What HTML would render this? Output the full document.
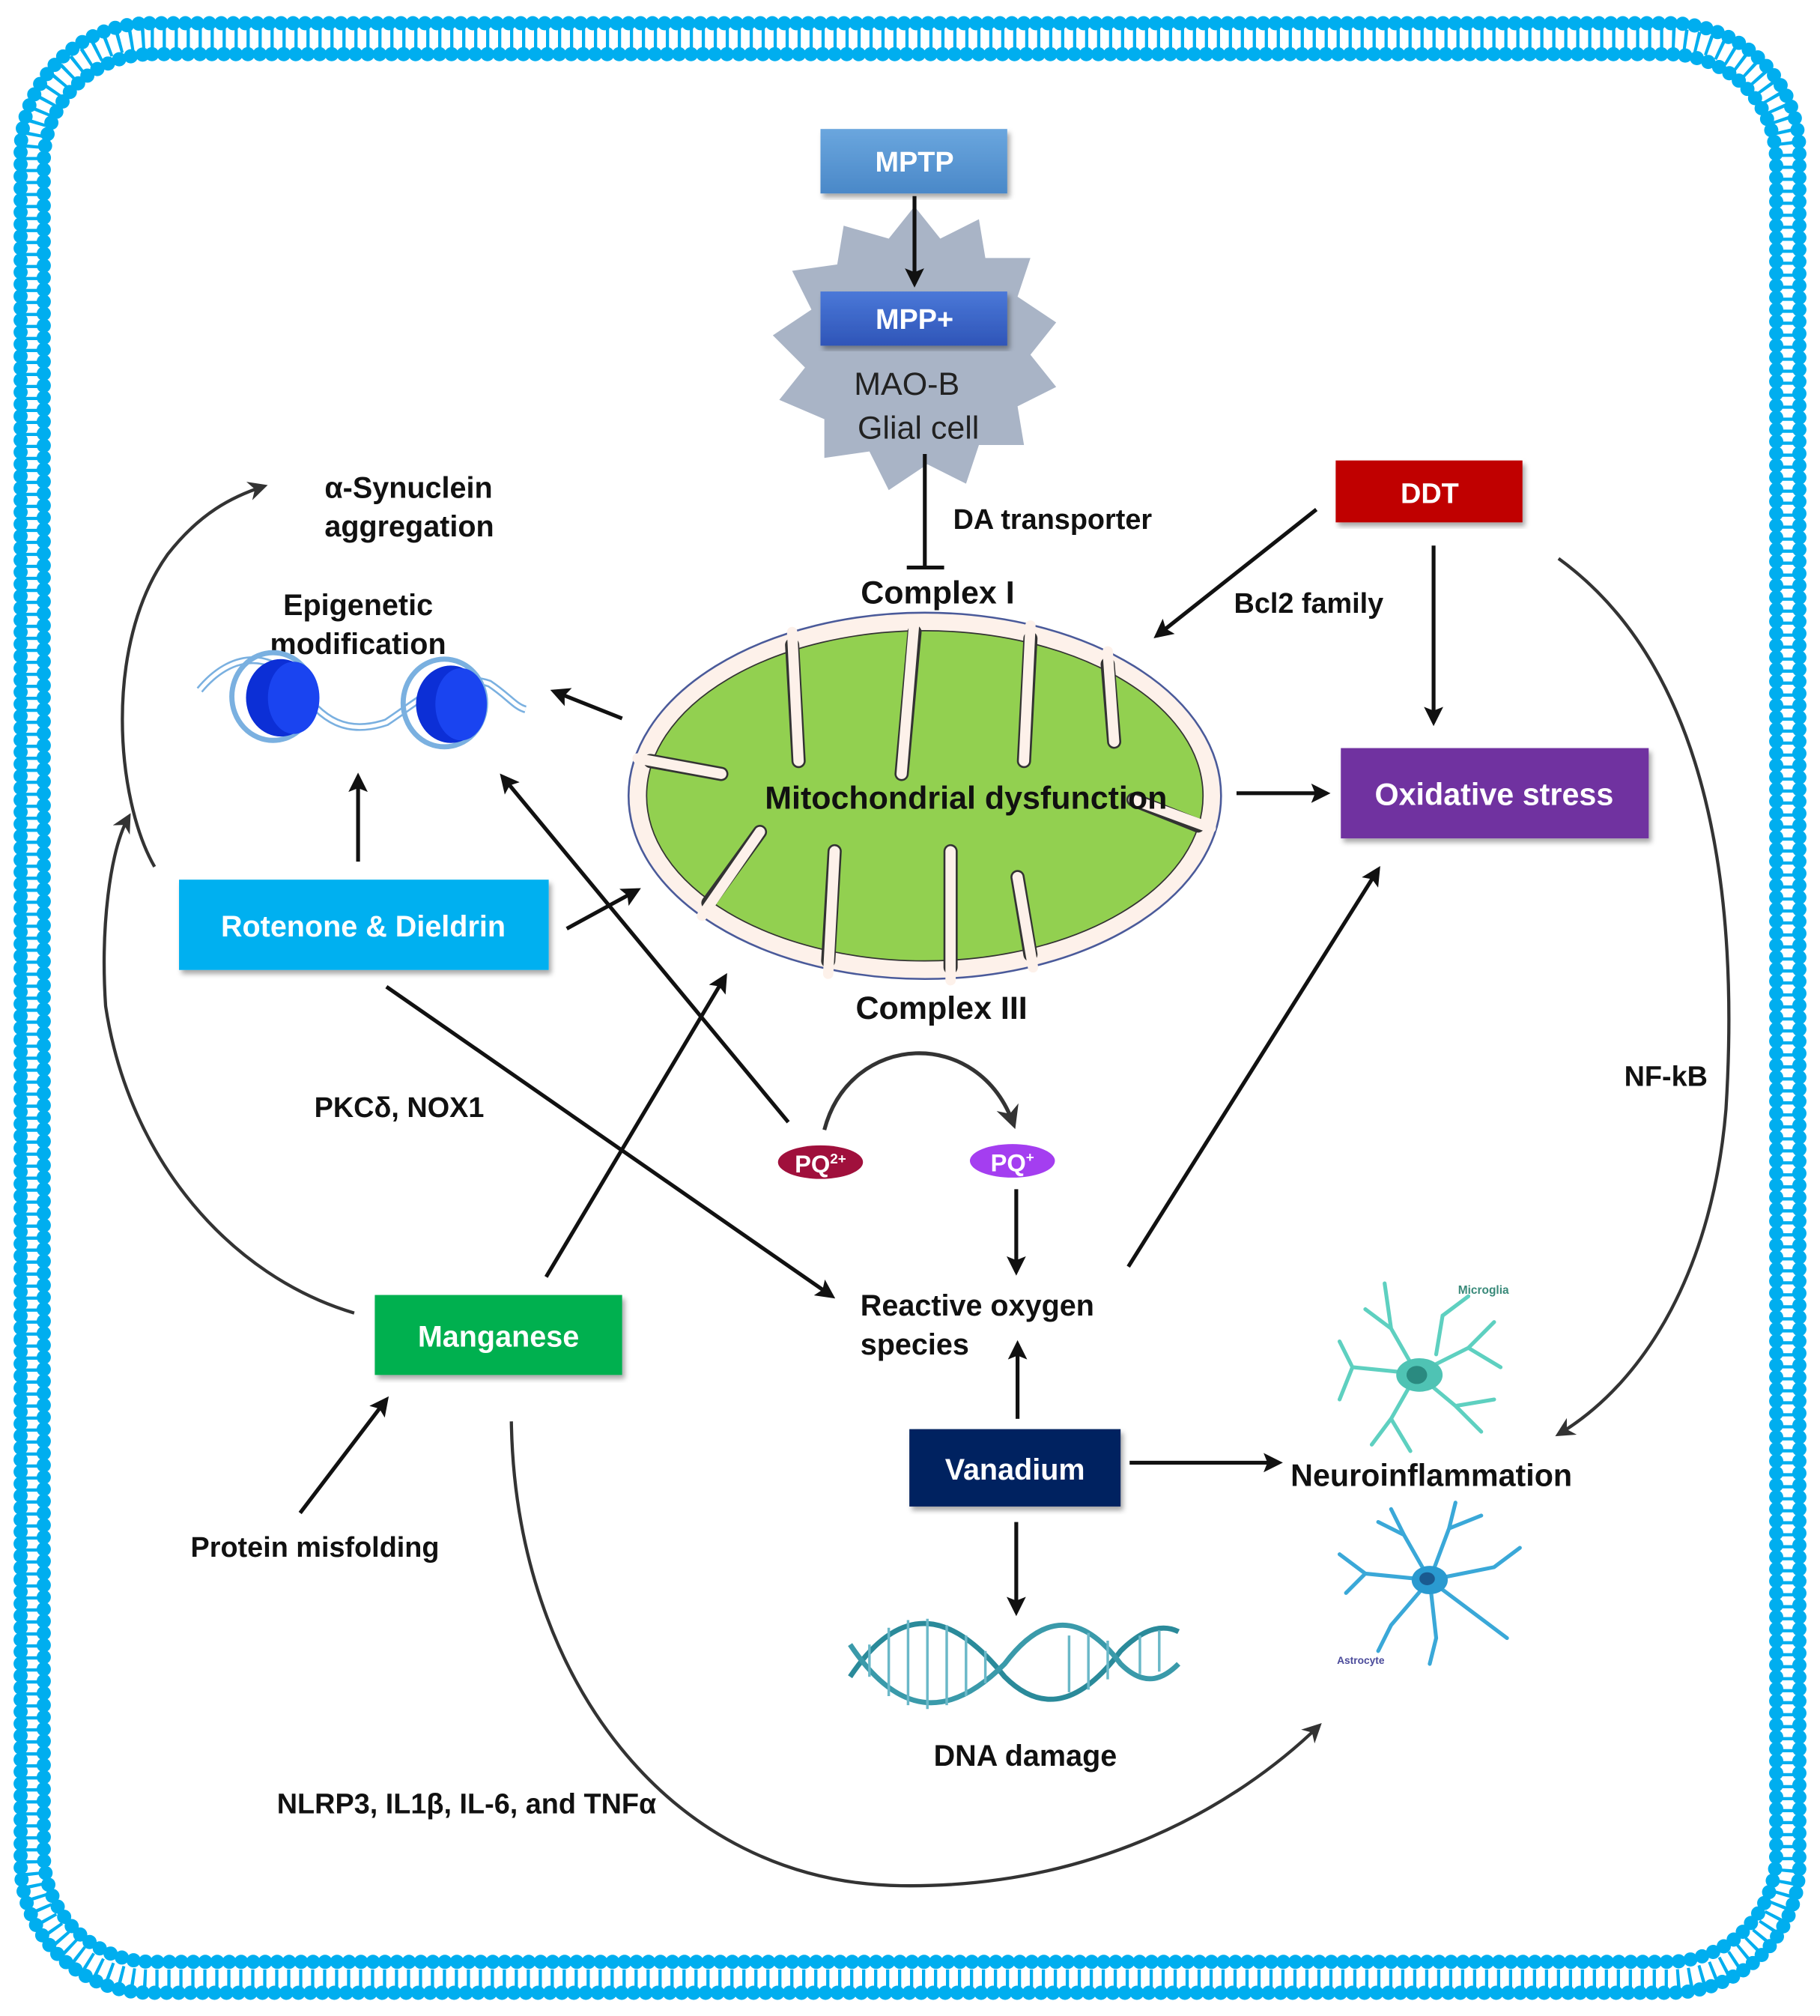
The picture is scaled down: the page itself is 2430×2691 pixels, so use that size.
<!DOCTYPE html>
<html><head><meta charset="utf-8"><style>
html,body{margin:0;padding:0;background:#fff}
svg{display:block}
text{font-family:"Liberation Sans",Arial,sans-serif}
.b{font-weight:bold;fill:#111}
.w{font-weight:bold;fill:#fff}
</style></head><body>
<svg width="2430" height="2691" viewBox="0 0 1413 1563" preserveAspectRatio="none" xmlns="http://www.w3.org/2000/svg">
<defs>
<marker id="a" viewBox="0 0 10 10" refX="8" refY="5" markerWidth="5" markerHeight="5" orient="auto"><path d="M0,0 L10,5 L0,10 L2,5z" fill="#111"/></marker>
<marker id="g" viewBox="0 0 10 10" refX="8" refY="5" markerWidth="6" markerHeight="6" orient="auto"><path d="M0,0 L10,5 L0,10 L3,5z" fill="#333"/></marker>
<linearGradient id="mp" x1="0" y1="0" x2="0" y2="1"><stop offset="0" stop-color="#6aa6de"/><stop offset="1" stop-color="#4a88c8"/></linearGradient>
<linearGradient id="mpp" x1="0" y1="0" x2="0" y2="1"><stop offset="0" stop-color="#4a78d8"/><stop offset="1" stop-color="#2f55b8"/></linearGradient>
<filter id="sh"><feDropShadow dx="2" dy="3" stdDeviation="2" flood-opacity="0.35"/></filter>
</defs>
<!-- membrane -->
<rect x="25" y="30" width="1363" height="1505" rx="92" fill="none" stroke="#00aeef" stroke-width="16" stroke-dasharray="2.5 6.8"/>
<rect x="16" y="18" width="1381" height="1527" rx="100" fill="none" stroke="#00aeef" stroke-width="11" stroke-linecap="round" stroke-dasharray="0 9.3"/>
<rect x="34" y="42" width="1345" height="1479" rx="84" fill="none" stroke="#00aeef" stroke-width="11" stroke-linecap="round" stroke-dasharray="0 9.3"/>

<!-- MPTP region -->
<polygon fill="#a9b4c6" points="710,160 730,185 760,170 765,200 800,200 790,230 820,250 800,275 820,300 790,315 795,345 760,345 750,375 720,360 690,380 675,350 640,355 640,325 605,310 625,285 600,260 630,240 615,210 650,205 655,175 690,185"/>
<rect x="637" y="100" width="145" height="50" fill="url(#mp)" filter="url(#sh)"/>
<text x="710" y="133" class="w" font-size="22" text-anchor="middle">MPTP</text>
<line x1="710" y1="152" x2="710" y2="220" stroke="#111" stroke-width="3" marker-end="url(#a)"/>
<rect x="637" y="226" width="145" height="42" fill="url(#mpp)" filter="url(#sh)"/>
<text x="710" y="255" class="w" font-size="22" text-anchor="middle">MPP+</text>
<text x="704" y="306" font-size="25" fill="#222" text-anchor="middle">MAO-B</text>
<text x="713" y="340" font-size="25" fill="#222" text-anchor="middle">Glial cell</text>
<line x1="718" y1="352" x2="718" y2="440" stroke="#111" stroke-width="3"/>
<line x1="704" y1="440" x2="733" y2="440" stroke="#111" stroke-width="3"/>
<text x="740" y="410" class="b" font-size="22">DA transporter</text>
<text x="728" y="468" class="b" font-size="25" text-anchor="middle">Complex I</text>

<!-- mitochondrion -->
<ellipse cx="718" cy="617" rx="230" ry="142" fill="#fdf1ea" stroke="#4a5a9a" stroke-width="1.5"/>
<ellipse cx="718" cy="617" rx="216" ry="128" fill="#92d050" stroke="#333" stroke-width="1"/>
<g stroke="#333" stroke-width="11" stroke-linecap="round" fill="none">
<path d="M615,500 L620,590"/><path d="M710,490 L700,600"/><path d="M800,495 L795,590"/><path d="M860,515 L865,575"/>
<path d="M505,590 L560,600"/><path d="M930,640 L880,620"/>
<path d="M590,645 L550,700"/><path d="M648,660 L643,745"/><path d="M738,660 L738,750"/><path d="M790,680 L800,740"/>
</g>
<g stroke="#fdf1ea" stroke-width="8" stroke-linecap="round" fill="none">
<path d="M615,490 L620,590"/><path d="M710,480 L700,600"/><path d="M800,485 L795,590"/><path d="M860,505 L865,575"/>
<path d="M495,588 L560,600"/><path d="M940,642 L880,620"/>
<path d="M590,645 L545,710"/><path d="M648,660 L643,755"/><path d="M738,660 L738,760"/><path d="M790,680 L802,750"/>
</g>
<text x="750" y="627" class="b" font-size="25" text-anchor="middle">Mitochondrial dysfunction</text>
<text x="731" y="790" class="b" font-size="25" text-anchor="middle">Complex III</text>

<!-- DDT -->
<rect x="1037" y="357" width="145" height="48" fill="#c00000" filter="url(#sh)"/>
<text x="1110" y="390" class="w" font-size="22" text-anchor="middle">DDT</text>
<line x1="1022" y1="395" x2="898" y2="493" stroke="#111" stroke-width="3" marker-end="url(#a)"/>
<text x="958" y="475" class="b" font-size="22">Bcl2 family</text>
<line x1="1113" y1="423" x2="1113" y2="560" stroke="#111" stroke-width="3" marker-end="url(#a)"/>
<rect x="1041" y="580" width="239" height="70" fill="#7030a0" filter="url(#sh)"/>
<text x="1160" y="624" class="w" font-size="24" text-anchor="middle">Oxidative stress</text>
<line x1="960" y1="615" x2="1030" y2="615" stroke="#111" stroke-width="3" marker-end="url(#a)"/>
<path d="M1210,433 C1330,520 1350,700 1340,860 C1330,980 1280,1070 1210,1112" fill="none" stroke="#333" stroke-width="2.5" marker-end="url(#g)"/>
<text x="1261" y="842" class="b" font-size="22">NF-kB</text>

<!-- epigenetic -->
<text x="278" y="477" class="b" font-size="23" text-anchor="middle">Epigenetic</text>
<text x="278" y="507" class="b" font-size="23" text-anchor="middle">modification</text>
<path d="M155,535 C180,505 210,505 230,530 C250,560 270,570 300,560 C330,540 350,520 380,530 C395,540 400,548 408,550" fill="none" stroke="#7ab0e0" stroke-width="6"/>
<path d="M155,535 C180,505 210,505 230,530 C250,560 270,570 300,560 C330,540 350,520 380,530 C395,540 400,548 408,550" fill="none" stroke="#fff" stroke-width="3"/>
<ellipse cx="212" cy="540" rx="32" ry="34" fill="none" stroke="#7ab0e0" stroke-width="4"/>
<ellipse cx="218" cy="541" rx="27" ry="30" fill="#0c2fd6"/>
<ellipse cx="228" cy="541" rx="20" ry="28" fill="#1a44f0"/>
<ellipse cx="345" cy="545" rx="32" ry="34" fill="none" stroke="#7ab0e0" stroke-width="4"/>
<ellipse cx="350" cy="546" rx="27" ry="30" fill="#0c2fd6"/>
<ellipse cx="358" cy="546" rx="20" ry="28" fill="#1a44f0"/>
<line x1="483" y1="557" x2="430" y2="536" stroke="#111" stroke-width="3" marker-end="url(#a)"/>

<text x="252" y="386" class="b" font-size="23">α-Synuclein</text>
<text x="252" y="416" class="b" font-size="23">aggregation</text>

<!-- rotenone -->
<rect x="139" y="682" width="287" height="70" fill="#00b0f0" filter="url(#sh)"/>
<text x="282" y="726" class="w" font-size="23" text-anchor="middle">Rotenone &amp; Dieldrin</text>
<line x1="278" y1="668" x2="278" y2="602" stroke="#111" stroke-width="3" marker-end="url(#a)"/>
<line x1="440" y1="720" x2="495" y2="690" stroke="#111" stroke-width="3" marker-end="url(#a)"/>
<path d="M120,672 C90,620 80,500 130,430 C155,398 180,385 205,377" fill="none" stroke="#333" stroke-width="2.5" marker-end="url(#g)"/>
<path d="M275,1018 C180,990 100,900 82,780 C78,720 85,660 100,633" fill="none" stroke="#333" stroke-width="2.5" marker-end="url(#g)"/>
<line x1="300" y1="765" x2="646" y2="1005" stroke="#111" stroke-width="3" marker-end="url(#a)"/>
<text x="244" y="866" class="b" font-size="22">PKCδ, NOX1</text>

<!-- PQ -->
<line x1="612" y1="870" x2="390" y2="602" stroke="#111" stroke-width="3" marker-end="url(#a)"/>
<ellipse cx="637" cy="901" rx="33" ry="13" fill="#a0103c"/>
<text x="637" y="909" class="w" font-size="19" text-anchor="middle">PQ<tspan font-size="11" dy="-7">2+</tspan></text>
<ellipse cx="786" cy="900" rx="33" ry="13" fill="#a43ef0"/>
<text x="786" y="908" class="w" font-size="19" text-anchor="middle">PQ<tspan font-size="11" dy="-7">+</tspan></text>
<path d="M640,876 C660,800 760,795 787,872" fill="none" stroke="#333" stroke-width="3" marker-end="url(#g)"/>
<line x1="789" y1="922" x2="789" y2="986" stroke="#111" stroke-width="3" marker-end="url(#a)"/>
<text x="668" y="1020" class="b" font-size="23">Reactive oxygen</text>
<text x="668" y="1050" class="b" font-size="23">species</text>
<line x1="876" y1="982" x2="1070" y2="674" stroke="#111" stroke-width="3" marker-end="url(#a)"/>

<!-- manganese -->
<rect x="291" y="1004" width="192" height="62" fill="#00b050" filter="url(#sh)"/>
<text x="387" y="1044" class="w" font-size="23" text-anchor="middle">Manganese</text>
<line x1="424" y1="990" x2="563" y2="757" stroke="#111" stroke-width="3" marker-end="url(#a)"/>
<line x1="233" y1="1173" x2="300" y2="1085" stroke="#111" stroke-width="3" marker-end="url(#a)"/>
<text x="148" y="1207" class="b" font-size="22">Protein misfolding</text>
<path d="M397,1102 C400,1300 520,1460 700,1462 C850,1464 960,1400 1024,1338" fill="none" stroke="#333" stroke-width="2.5" marker-end="url(#g)"/>
<text x="215" y="1406" class="b" font-size="22">NLRP3, IL1β, IL-6, and TNFα</text>

<!-- vanadium -->
<rect x="706" y="1108" width="164" height="60" fill="#002060" filter="url(#sh)"/>
<text x="788" y="1147" class="w" font-size="23" text-anchor="middle">Vanadium</text>
<line x1="790" y1="1100" x2="790" y2="1042" stroke="#111" stroke-width="3" marker-end="url(#a)"/>
<line x1="877" y1="1134" x2="993" y2="1134" stroke="#111" stroke-width="3" marker-end="url(#a)"/>
<line x1="789" y1="1180" x2="789" y2="1250" stroke="#111" stroke-width="3" marker-end="url(#a)"/>
<text x="1002" y="1152" class="b" font-size="24">Neuroinflammation</text>

<!-- microglia -->
<g stroke="#5ed0c0" stroke-width="3" fill="none" stroke-linecap="round">
<path d="M1100,1065 L1080,1030 L1075,995 M1080,1030 L1060,1015 M1100,1065 L1050,1060 L1040,1040 M1050,1060 L1040,1085 M1100,1065 L1080,1100 L1065,1120 M1080,1100 L1095,1125 M1100,1065 L1130,1090 L1150,1110 M1130,1090 L1160,1085 M1100,1065 L1140,1045 L1160,1025 M1140,1045 L1165,1060 M1115,1050 L1120,1020 L1140,1005"/>
</g>
<ellipse cx="1102" cy="1066" rx="18" ry="13" fill="#4fc3b4"/>
<ellipse cx="1100" cy="1066" rx="8" ry="7" fill="#2a8a80"/>
<text x="1132" y="1003" font-size="9" font-weight="bold" fill="#3a8a7a">Microglia</text>
<!-- astrocyte -->
<g stroke="#3aa8d8" stroke-width="3" fill="none" stroke-linecap="round">
<path d="M1110,1225 L1090,1190 L1080,1170 M1090,1190 L1070,1180 M1110,1225 L1125,1185 L1130,1165 M1110,1225 L1060,1220 L1040,1205 M1060,1220 L1045,1235 M1110,1225 L1080,1260 L1070,1280 M1110,1225 L1115,1270 L1110,1290 M1110,1225 L1150,1255 L1170,1270 M1110,1225 L1160,1215 L1180,1200 M1125,1185 L1150,1175"/>
</g>
<ellipse cx="1110" cy="1225" rx="14" ry="11" fill="#2a9ad0"/>
<ellipse cx="1108" cy="1224" rx="6" ry="5" fill="#1a5a90"/>
<text x="1038" y="1290" font-size="8" font-weight="bold" fill="#4a4a9a">Astrocyte</text>

<!-- DNA -->
<path d="M660,1300 C700,1240 740,1250 780,1300 C810,1330 840,1320 870,1280 C890,1260 905,1260 915,1265" fill="none" stroke="#2a8a9a" stroke-width="4"/>
<path d="M660,1275 C700,1335 740,1330 780,1290 C810,1250 840,1250 870,1290 C890,1310 905,1300 915,1290" fill="none" stroke="#3a9aaa" stroke-width="4"/>
<g stroke="#6ab8c8" stroke-width="2">
<line x1="675" y1="1275" x2="675" y2="1300"/><line x1="690" y1="1262" x2="690" y2="1315"/><line x1="705" y1="1256" x2="705" y2="1322"/><line x1="720" y1="1255" x2="720" y2="1325"/><line x1="735" y1="1260" x2="735" y2="1322"/><line x1="750" y1="1268" x2="750" y2="1315"/><line x1="765" y1="1280" x2="765" y2="1305"/>
<line x1="830" y1="1268" x2="830" y2="1312"/><line x1="845" y1="1266" x2="845" y2="1310"/><line x1="860" y1="1272" x2="860" y2="1302"/><line x1="885" y1="1268" x2="885" y2="1298"/><line x1="900" y1="1264" x2="900" y2="1296"/>
</g>
<text x="796" y="1369" class="b" font-size="23" text-anchor="middle">DNA damage</text>
</svg>
</body></html>
